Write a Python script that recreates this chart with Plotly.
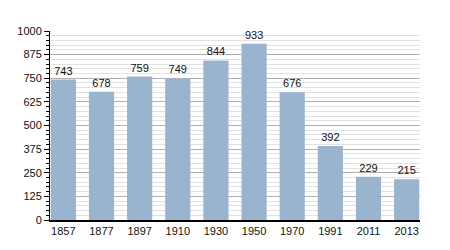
import plotly.graph_objects as go

years = ["1857", "1877", "1897", "1910", "1930", "1950", "1970", "1991", "2011", "2013"]
population = [743, 678, 759, 749, 844, 933, 676, 392, 229, 215]
y_ticks = [0, 125, 250, 375, 500, 625, 750, 875, 1000]

fig = go.Figure(go.Bar(
    x=years, y=population,
    marker=dict(color="#9ab3ce", line=dict(width=0)),
    text=[str(v) for v in population],
    textposition="outside",
    textfont=dict(size=11, color="#111111", family="Liberation Sans, Arial"),
    cliponaxis=False,
))

fig.update_layout(
    width=450, height=250,
    margin=dict(l=50, r=30, t=31, b=30),
    paper_bgcolor="white", plot_bgcolor="white",
    bargap=0.34,
    showlegend=False,
    font=dict(family="Liberation Sans, Arial", size=11, color="#111111"),
)
fig.update_xaxes(
    type="category",
    range=[-0.35, 9.35],
    showline=True, linecolor="black", linewidth=1.5,
    ticks="", showgrid=False,
    tickfont=dict(size=11),
)
fig.update_yaxes(
    range=[0, 1000],
    tickvals=y_ticks,
    showline=True, linecolor="black", linewidth=1,
    ticks="outside", ticklen=5, tickcolor="black",
    showgrid=True, gridcolor="#b0b0b0", gridwidth=1,
    zeroline=False,
    minor=dict(dtick=25, showgrid=True, gridcolor="#e2e2e2", gridwidth=1,
               ticks="outside", ticklen=3, tickcolor="black"),
    tickfont=dict(size=11),
)

fig.write_html("out.html")
